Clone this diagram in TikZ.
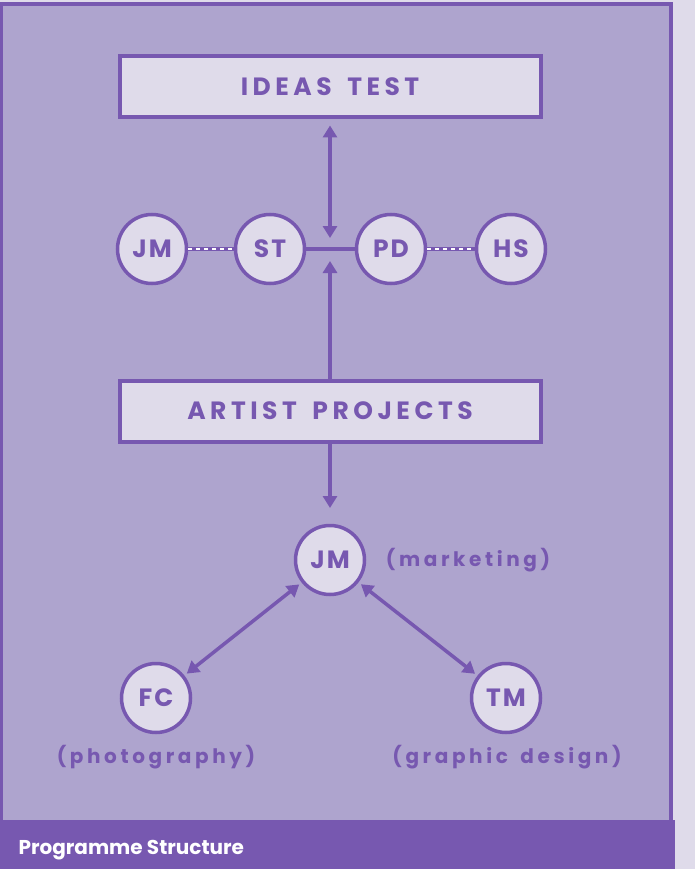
\documentclass[tikz,border=0pt]{standalone}
\usepackage{fontspec}
\setmainfont{Poppins}
\newfontfamily\spc{Poppins}[LetterSpace=18,WordSpace=1.6]
\newfontfamily\spcs{Poppins}[LetterSpace=8]
\usetikzlibrary{arrows.meta}
\definecolor{dp}{HTML}{7758B0}
\definecolor{pf}{HTML}{AEA4CE}
\definecolor{lf}{HTML}{DFDBEA}
\begin{document}
\begin{tikzpicture}[x=1pt,y=-1pt,
 box/.style={draw=dp,line width=4pt,fill=lf,minimum width=421pt,minimum height=61pt,inner sep=0pt,text=dp,font=\spc\bfseries\fontsize{25}{30}\selectfont},
 pers/.style={circle,draw=dp,line width=3.5pt,fill=lf,minimum size=69pt,inner sep=0pt,text=dp,font=\spcs\bfseries\fontsize{25}{30}\selectfont},
 lbl/.style={text=dp,font=\spc\bfseries\fontsize{20}{24}\selectfont},
 conn/.style={draw=dp,line width=3.5pt},
 arr/.style={conn,{Triangle[length=12pt,width=14pt]}-{Triangle[length=12pt,width=14pt]}},
 arrto/.style={conn,-{Triangle[length=12pt,width=14pt]}},
 dots/.style={draw=white,line width=2.5pt,dash pattern=on 4pt off 4pt}]
\useasboundingbox (0,0) rectangle (695,869);
\fill[lf] (0,0) rectangle (695,869);
\draw[draw=dp,fill=pf,line width=4pt] (1,4) rectangle (671,822);
\fill[dp] (0,820) rectangle (675,869);
\node[anchor=west,text=white,font=\bfseries\fontsize{20}{24}\selectfont] (title) at (15,850) {Programme Structure};

\node[box] (ideas) at (330,87) {IDEAS TEST};
\node[box] (artist) at (330,411) {ARTIST PROJECTS};

\node[pers] (jm1) at (152,249) {JM};
\node[pers] (st) at (270,249) {ST};
\node[pers] (pd) at (391,249) {PD};
\node[pers] (hs) at (511,249) {HS};

\node[pers] (jm2) at (330,560) {JM};
\node[pers] (fc) at (156,698) {FC};
\node[pers] (tm) at (506,698) {TM};

\node[lbl] (mk) at (468,560) {(marketing)};
\node[lbl] (ph) at (156,757) {(photography)};
\node[lbl] (gd) at (507,757) {(graphic design)};

\coordinate (a1) at (330,238);
\coordinate (a2) at (330,261);
\coordinate (a3) at (330,508);

\draw[conn] (jm1) -- (st);
\draw[dots] (jm1) -- (st);
\draw[conn] (pd) -- (hs);
\draw[dots] (pd) -- (hs);
\draw[conn] (st) -- (pd);

\draw[arr,shorten <=6pt] (ideas) -- (a1);
\draw[arrto] (artist) -- (a2);
\draw[arrto] (artist) -- (a3);
\draw[arr,shorten <=3pt,shorten >=3pt] (jm2) -- (fc);
\draw[arr,shorten <=3pt,shorten >=3pt] (jm2) -- (tm);
\end{tikzpicture}
\end{document}
